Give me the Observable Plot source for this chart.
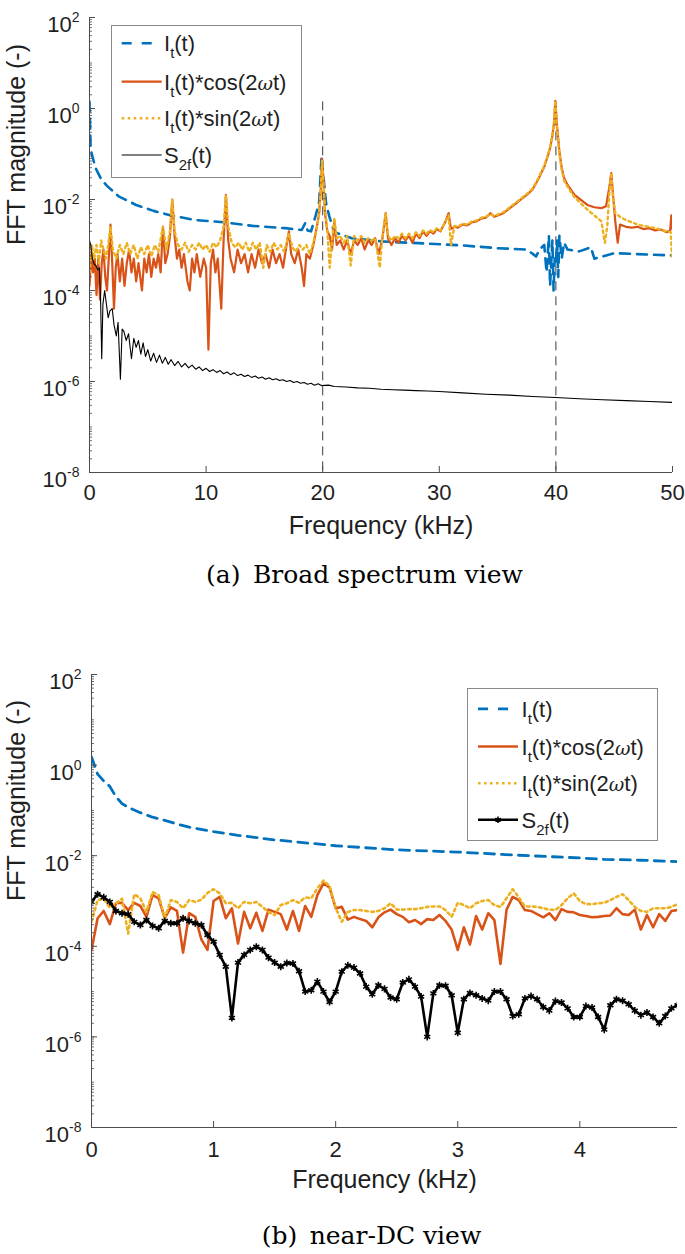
<!DOCTYPE html>
<html><head><meta charset="utf-8">
<script src="https://cdn.jsdelivr.net/npm/d3@7"></script>
<script src="https://cdn.jsdelivr.net/npm/@observablehq/plot@0.6"></script>
<style>
html,body{margin:0;padding:0;background:#fff;}
body{width:685px;height:1254px;position:relative;overflow:hidden;}
.panel{position:absolute;left:0;}
.caption{position:absolute;width:685px;text-align:center;font-family:"DejaVu Serif",serif;font-size:25px;line-height:28px;color:#000;}
</style></head>
<body>
<div id="pa" class="panel" style="top:0px"></div>
<div id="pb" class="panel" style="top:640px"></div>
<div class="caption" style="top:561px;left:22px;">(a)&ensp;Broad spectrum view</div>
<div class="caption" style="top:1222px;left:29px;">(b)&ensp;near-DC view</div>
<script>
// ---------- labels ----------
const yLabel = "FFT magnitude (-)";
const xLabel = "Frequency (kHz)";
const yDomain = [1e-8, 1e2];
const yLabelTicks = [1e-8, 1e-6, 1e-4, 1e-2, 1, 1e2];
const xTicksA = [0, 10, 20, 30, 40, 50];
const xTicksB = [0, 1, 2, 3, 4];
const harmonicFreqs = [20, 40];      // dashed reference lines (kHz)
const harmonicTop = 1.4;             // top of dashed lines (magnitude)
const seriesNames = ["It", "cos", "sin", "S2f"];

// ---------- panel (a): [frequency kHz, log10 magnitude] ----------
const broadIt = [[0,0.15],[0.1,-0.9],[0.3,-1.1],[0.5,-1.3],[1.0,-1.55],[1.5,-1.7],[2.5,-1.93],[4,-2.12],[5.5,-2.25],[7,-2.35],[9,-2.45],[11.5,-2.5],[14,-2.58],[16.8,-2.63],[18.2,-2.67],[18.5,-2.52],[18.7,-2.68],[19.0,-2.7],[19.4,-2.35],[19.7,-2.05],[19.9,-1.05],[20.1,-1.6],[20.3,-2.1],[20.6,-2.4],[21,-2.72],[22.5,-2.85],[25,-2.92],[29,-2.97],[32,-3.01],[35,-3.07],[37.5,-3.1],[38.3,-3.25],[38.6,-3.1],[39.0,-3.0],[39.2,-3.6],[39.4,-2.8],[39.5,-3.9],[39.7,-2.9],[39.8,-4.0],[39.9,-3.3],[40.0,-3.4],[40.1,-2.9],[40.2,-3.7],[40.3,-2.8],[40.5,-3.3],[40.7,-2.95],[41.0,-3.1],[42,-3.14],[43,-3.05],[43.3,-3.3],[45,-3.18],[50,-3.23]];

const broadCos = [[0,-3.9],[0.15,-3.2],[0.3,-3.6],[0.45,-3.3],[0.6,-4.1],[0.75,-3.3],[0.9,-4.2],[1.05,-3.4],[1.2,-3.1],[1.35,-3.7],[1.5,-4.0],[1.65,-3.3],[1.8,-2.55],[1.95,-3.4],[2.1,-4.4],[2.25,-3.5],[2.4,-3.2],[2.6,-3.8],[2.8,-3.3],[3.0,-3.9],[3.2,-3.4],[3.4,-3.1],[3.6,-3.6],[3.8,-3.3],[4.0,-3.8],[4.2,-3.4],[4.5,-4.0],[4.7,-3.3],[4.9,-3.6],[5.1,-3.2],[5.3,-3.7],[5.5,-3.3],[5.7,-3.5],[5.9,-3.2],[6.1,-3.6],[6.3,-2.6],[6.5,-3.4],[6.7,-3.2],[6.9,-2.8],[7.1,-2.0],[7.3,-2.8],[7.5,-3.3],[7.7,-3.1],[7.9,-3.5],[8.1,-3.2],[8.4,-3.8],[8.6,-4.0],[8.8,-3.3],[9.0,-3.6],[9.2,-3.2],[9.5,-3.7],[9.8,-3.3],[10.0,-3.5],[10.2,-5.3],[10.4,-3.4],[10.6,-3.1],[10.8,-3.6],[11.0,-3.3],[11.3,-4.4],[11.5,-2.9],[11.7,-1.9],[11.9,-2.9],[12.1,-3.3],[12.4,-3.6],[12.7,-3.1],[13.0,-3.4],[13.3,-3.2],[13.6,-3.6],[13.9,-3.2],[14.2,-3.5],[14.5,-3.1],[14.8,-3.4],[15.1,-3.2],[15.4,-3.5],[15.7,-3.1],[16.0,-3.4],[16.3,-3.2],[16.6,-3.5],[16.9,-3.0],[17.1,-2.7],[17.3,-3.2],[17.6,-3.4],[17.9,-3.1],[18.2,-3.5],[18.4,-3.9],[18.6,-3.2],[18.9,-3.3],[19.2,-3.0],[19.5,-2.6],[19.7,-2.3],[19.85,-1.7],[19.95,-1.1],[20.05,-1.5],[20.2,-2.3],[20.4,-2.7],[20.6,-2.8],[20.8,-3.1],[21.0,-2.5],[21.2,-3.0],[21.5,-2.9],[21.8,-3.1],[22.1,-2.9],[22.4,-3.2],[22.7,-2.9],[23.0,-3.0],[23.3,-2.85],[23.6,-3.1],[23.9,-2.9],[24.2,-3.0],[24.5,-2.85],[24.8,-3.2],[25.1,-2.9],[25.4,-2.3],[25.6,-2.85],[25.9,-3.0],[26.2,-2.85],[26.5,-2.95],[26.8,-2.8],[27.1,-2.9],[27.4,-2.8],[27.7,-2.95],[28.0,-2.75],[28.3,-2.85],[28.6,-2.7],[28.9,-2.8],[29.2,-2.7],[29.5,-2.75],[29.8,-2.65],[30.1,-2.7],[30.5,-2.5],[30.8,-2.3],[31.0,-2.65],[31.3,-2.6],[31.6,-2.62],[32.0,-2.55],[32.4,-2.57],[32.8,-2.5],[33.2,-2.48],[33.6,-2.42],[34.0,-2.4],[34.4,-2.3],[34.7,-2.38],[35.0,-2.35],[35.5,-2.3],[36.0,-2.2],[36.5,-2.1],[37.0,-2.0],[37.5,-1.9],[38.0,-1.78],[38.5,-1.55],[39.0,-1.28],[39.3,-1.05],[39.5,-0.87],[39.7,-0.6],[39.85,-0.3],[39.95,0.17],[40.1,-0.4],[40.3,-0.95],[40.5,-1.3],[40.7,-1.53],[41.0,-1.68],[41.6,-1.9],[42.2,-2.02],[42.7,-2.12],[43.3,-2.17],[43.9,-2.19],[44.3,-2.15],[44.6,-1.7],[44.75,-1.42],[44.9,-1.9],[45.1,-2.5],[45.3,-2.95],[45.5,-2.55],[46.0,-2.6],[46.5,-2.62],[47.0,-2.6],[47.5,-2.65],[48.0,-2.63],[48.5,-2.68],[49.0,-2.66],[49.5,-2.72],[49.8,-2.68],[49.9,-2.35],[50.0,-2.65]];

const broadSin = [[0,-3.6],[0.2,-3.0],[0.4,-3.3],[0.6,-3.0],[0.8,-3.4],[1.0,-2.9],[1.2,-3.1],[1.4,-3.3],[1.6,-3.0],[1.8,-2.6],[2.0,-3.1],[2.3,-3.3],[2.6,-3.0],[2.9,-3.2],[3.2,-2.95],[3.5,-3.2],[3.8,-3.0],[4.1,-3.3],[4.4,-3.05],[4.7,-3.2],[5.0,-3.0],[5.3,-3.25],[5.6,-3.0],[5.9,-3.15],[6.3,-2.6],[6.6,-3.1],[6.9,-2.7],[7.1,-2.0],[7.3,-2.7],[7.6,-3.0],[7.9,-3.1],[8.2,-2.95],[8.5,-3.15],[8.8,-3.0],[9.1,-3.1],[9.4,-2.95],[9.7,-3.1],[10.0,-3.0],[10.3,-3.15],[10.6,-2.95],[10.9,-3.05],[11.2,-2.9],[11.5,-2.6],[11.7,-1.9],[11.9,-2.6],[12.2,-2.95],[12.5,-3.05],[12.8,-2.95],[13.1,-3.1],[13.4,-2.95],[13.7,-3.15],[14.0,-2.95],[14.3,-3.1],[14.6,-2.95],[14.9,-3.5],[15.2,-3.0],[15.5,-3.15],[15.8,-2.95],[16.1,-3.1],[16.4,-3.0],[16.7,-3.15],[17.1,-2.75],[17.4,-3.05],[17.7,-3.15],[18.0,-3.0],[18.3,-3.1],[18.6,-3.0],[18.9,-3.2],[19.2,-2.95],[19.5,-2.6],[19.7,-2.3],[19.85,-1.7],[19.95,-1.15],[20.05,-1.6],[20.2,-2.2],[20.4,-2.7],[20.6,-3.5],[20.8,-2.9],[21.0,-2.4],[21.2,-2.85],[21.5,-2.8],[21.8,-2.95],[22.1,-2.8],[22.4,-3.45],[22.7,-2.8],[23.0,-2.9],[23.3,-2.8],[23.6,-2.95],[23.9,-2.85],[24.2,-2.9],[24.5,-2.85],[24.9,-3.5],[25.1,-2.85],[25.4,-2.3],[25.6,-2.8],[25.9,-2.9],[26.2,-2.8],[26.5,-2.85],[26.8,-2.75],[27.1,-2.85],[27.4,-2.75],[27.7,-2.85],[28.0,-2.72],[28.3,-2.8],[28.6,-2.68],[28.9,-2.75],[29.2,-2.67],[29.5,-2.72],[29.8,-2.63],[30.1,-2.68],[30.5,-2.5],[30.8,-2.35],[31.0,-3.0],[31.3,-2.58],[31.6,-2.6],[32.0,-2.53],[32.4,-2.55],[32.8,-2.48],[33.2,-2.46],[33.6,-2.4],[34.0,-2.38],[34.4,-2.32],[34.7,-2.36],[35.0,-2.33],[35.5,-2.28],[36.0,-2.18],[36.5,-2.08],[37.0,-1.98],[37.5,-1.88],[38.0,-1.76],[38.5,-1.53],[39.0,-1.26],[39.3,-1.03],[39.5,-0.85],[39.7,-0.58],[39.85,-0.28],[39.95,0.17],[40.1,-0.45],[40.3,-1.0],[40.5,-1.35],[40.7,-1.58],[41.0,-1.72],[41.6,-1.95],[42.2,-2.1],[42.7,-2.22],[43.3,-2.35],[43.9,-2.48],[44.2,-2.95],[44.4,-2.6],[44.6,-1.8],[44.75,-1.42],[44.9,-1.95],[45.1,-2.3],[45.5,-2.38],[46.0,-2.45],[46.5,-2.5],[47.0,-2.55],[47.5,-2.58],[48.0,-2.6],[48.5,-2.63],[49.0,-2.66],[49.5,-2.7],[49.85,-2.72],[49.95,-3.25],[50.0,-3.2]];

const broadS2f = [[0,-2.9],[0.1,-3.0],[0.25,-3.3],[0.4,-3.42],[0.55,-3.45],[0.7,-3.55],[0.85,-3.5],[0.95,-4.2],[1.05,-5.5],[1.15,-4.3],[1.3,-4.0],[1.45,-4.3],[1.6,-4.6],[1.75,-4.45],[1.95,-4.4],[2.1,-4.75],[2.3,-5.0],[2.45,-4.7],[2.65,-5.95],[2.8,-4.85],[2.95,-4.9],[3.15,-5.1],[3.35,-4.95],[3.6,-5.5],[3.8,-5.05],[4.0,-5.25],[4.2,-5.1],[4.4,-5.4],[4.6,-5.15],[4.8,-5.45],[5.0,-5.3],[5.25,-5.55],[5.5,-5.38],[5.75,-5.58],[6.0,-5.42],[6.25,-5.6],[6.5,-5.47],[6.75,-5.62],[7.0,-5.52],[7.3,-5.65],[7.6,-5.56],[7.9,-5.68],[8.2,-5.6],[8.5,-5.7],[8.8,-5.64],[9.1,-5.73],[9.4,-5.68],[9.7,-5.76],[10.0,-5.71],[10.3,-5.78],[10.6,-5.74],[10.9,-5.8],[11.2,-5.76],[11.5,-5.83],[11.8,-5.79],[12.1,-5.85],[12.4,-5.81],[12.7,-5.87],[13.0,-5.84],[13.3,-5.89],[13.6,-5.86],[13.9,-5.91],[14.2,-5.88],[14.5,-5.93],[14.8,-5.9],[15.1,-5.95],[15.4,-5.92],[15.7,-5.96],[16.0,-5.94],[16.3,-5.98],[16.6,-5.96],[16.9,-6.0],[17.2,-5.98],[17.5,-6.02],[17.8,-6.0],[18.1,-6.04],[18.4,-6.02],[18.7,-6.06],[19.0,-6.04],[19.3,-6.08],[19.6,-6.05],[19.9,-6.09],[20.5,-6.08],[21,-6.11],[22,-6.12],[23,-6.14],[24,-6.15],[25,-6.17],[26,-6.18],[27,-6.19],[28,-6.2],[29,-6.21],[30,-6.22],[32,-6.25],[34,-6.28],[36,-6.3],[38,-6.33],[40,-6.35],[42,-6.38],[44,-6.4],[46,-6.42],[48,-6.44],[50,-6.46]];

// ---------- panel (b): FFT bins (kHz) and log10 magnitudes ----------
const dcFreq = [0,0.05,0.1,0.15,0.2,0.25,0.3,0.35,0.4,0.45,0.5,0.55,0.6,0.65,0.7,0.75,0.8,0.85,0.9,0.95,1,1.05,1.1,1.15,1.2,1.25,1.3,1.35,1.4,1.45,1.5,1.55,1.6,1.65,1.7,1.75,1.8,1.85,1.9,1.95,2,2.05,2.1,2.15,2.2,2.25,2.3,2.35,2.4,2.45,2.5,2.55,2.6,2.65,2.7,2.75,2.8,2.85,2.9,2.95,3,3.05,3.1,3.15,3.2,3.25,3.3,3.35,3.4,3.45,3.5,3.55,3.6,3.65,3.7,3.75,3.8,3.85,3.9,3.95,4,4.05,4.1,4.15,4.2,4.25,4.3,4.35,4.4,4.45,4.5,4.55,4.6,4.65,4.7,4.75,4.8];
const dcCos = [-4.08,-3.38,-3.22,-3.51,-3.05,-3.04,-3.20,-3.04,-3.11,-3.35,
 -2.87,-2.94,-3.38,-3.14,-3.22,-4.14,-3.27,-3.35,-3.85,-4.08,
 -3.00,-2.91,-3.38,-3.16,-3.94,-3.24,-3.60,-3.26,-3.66,-3.19,
 -3.24,-3.29,-3.63,-3.22,-3.66,-3.11,-3.35,-2.87,-2.61,-2.70,
 -3.16,-3.13,-3.41,-3.35,-3.40,-3.44,-3.58,-3.36,-3.25,-3.19,
 -3.29,-3.35,-3.47,-3.42,-3.51,-3.40,-3.42,-3.31,-3.44,-3.63,
 -4.08,-3.58,-3.96,-3.33,-3.63,-3.27,-3.42,-4.39,-3.19,-2.91,
 -2.98,-3.20,-3.22,-3.29,-3.36,-3.27,-3.42,-3.18,-3.24,-3.25,
 -3.31,-3.33,-3.36,-3.35,-3.33,-3.32,-3.16,-3.29,-3.31,-3.19,
 -3.63,-3.31,-3.58,-3.29,-3.44,-3.22,-3.20];
const dcSin = [-3.46,-2.98,-2.95,-3.15,-3.05,-2.95,-3.72,-2.85,-2.94,-3.24,
 -2.80,-2.87,-3.38,-2.98,-3.02,-3.16,-2.98,-3.02,-2.97,-2.82,
 -2.74,-2.83,-3.05,-3.04,-3.16,-3.02,-3.05,-3.02,-3.13,-3.24,
 -3.31,-3.09,-3.05,-2.98,-3.04,-2.92,-2.94,-2.72,-2.55,-2.67,
 -3.15,-3.46,-3.24,-3.20,-3.20,-3.22,-3.24,-3.22,-3.16,-3.05,
 -3.19,-3.19,-3.18,-3.18,-3.16,-3.13,-3.12,-3.12,-3.20,-3.35,
 -3.04,-3.09,-3.16,-3.05,-3.00,-2.98,-3.09,-3.13,-2.94,-2.74,
 -2.92,-3.12,-3.12,-3.13,-3.16,-3.19,-3.20,-3.09,-2.94,-2.83,
 -3.00,-3.07,-3.07,-3.05,-3.04,-2.98,-2.91,-2.85,-2.98,-3.13,
 -3.22,-3.24,-3.16,-3.16,-3.16,-3.13,-3.07];
const dcS2f = [-3.02,-2.85,-2.92,-3.02,-3.22,-3.27,-3.29,-3.46,-3.53,-3.42,
 -3.55,-3.60,-3.44,-3.49,-3.49,-3.38,-3.44,-3.49,-3.53,-3.75,
 -3.90,-4.19,-4.45,-5.58,-4.36,-4.19,-4.08,-4.01,-4.08,-4.25,
 -4.36,-4.45,-4.37,-4.38,-4.55,-5.00,-4.97,-4.78,-5.00,-5.23,
 -5.00,-4.56,-4.42,-4.47,-4.60,-4.89,-5.06,-4.86,-4.94,-5.13,
 -5.17,-4.80,-4.73,-4.89,-5.11,-6.00,-5.04,-4.86,-4.87,-5.08,
 -5.91,-5.17,-5.03,-5.08,-5.15,-5.20,-5.00,-5.00,-5.17,-5.54,
 -5.50,-5.15,-5.10,-5.17,-5.34,-5.42,-5.21,-5.24,-5.37,-5.56,
 -5.56,-5.32,-5.35,-5.56,-5.84,-5.30,-5.17,-5.20,-5.28,-5.42,
 -5.52,-5.46,-5.56,-5.70,-5.54,-5.37,-5.30];
const dcIt = [[0,0.18],[0.05,-0.2],[0.1,-0.35],[0.15,-0.47],[0.2,-0.7],[0.25,-0.85],[0.3,-0.93],[0.4,-1.05],[0.5,-1.15],[0.6,-1.22],[0.7,-1.3],[0.8,-1.37],[1.0,-1.47],[1.2,-1.55],[1.5,-1.65],[2.0,-1.78],[2.5,-1.87],[3.0,-1.92],[3.5,-1.99],[4.0,-2.05],[4.2,-2.08],[4.5,-2.1],[4.8,-2.13]];

// ---------- styling ----------
const FONT = '"Liberation Sans", Arial, Helvetica, sans-serif';
const TXT = "#1f1f1f";
const AX = "#4d4d4d";
const C = {It: "#0072BD", cos: "#D95319", sin: "#EDB120", S2f: "#000000"};
const DOT = "2.6,3.4";

const pairs = (arr) => arr.map(([f, l]) => ({f, v: Math.pow(10, l)}));
const binned = (vals) => vals.map((l, i) => ({f: dcFreq[i], v: Math.pow(10, l)}));

function superscriptTicks(svg) {
  d3.select(svg).selectAll('g[aria-label="y-axis tick label"] text').each(function () {
    const s = this.textContent;
    const [base, exp] = s.split("^");
    const t = d3.select(this);
    t.text(null).attr("y", "0.68em").attr("dy", null);
    t.append("tspan").text(base);
    t.append("tspan").attr("font-size", "14px").attr("dy", "-0.74em").text(exp);
  });
}

function buildPanel(o) {
  const frameW = o.width - o.marginLeft - o.marginRight;
  const frameH = o.height - o.marginTop - o.marginBottom;
  const minor = d3.scaleLog().domain(yDomain).ticks(20);
  const svg = Plot.plot({
    width: o.width, height: o.height,
    marginLeft: o.marginLeft, marginRight: o.marginRight, marginTop: o.marginTop, marginBottom: o.marginBottom,
    style: {fontFamily: FONT, fontSize: "22px", color: TXT, background: "transparent", overflow: "visible"},
    x: {domain: o.xDomain},
    y: {type: "log", domain: yDomain},
    marks: [
      ...o.marks,
      Plot.ruleX([o.xDomain[0]], {stroke: AX, strokeWidth: 1}),
      Plot.ruleY([yDomain[0]], {stroke: AX, strokeWidth: 1}),
      Plot.tickY(minor, {y: d => d, stroke: AX, strokeWidth: 0.8, insetRight: frameW - 3}),
      Plot.tickY(yLabelTicks, {y: d => d, stroke: AX, strokeWidth: 1, insetRight: frameW - 6}),
      Plot.tickX(o.xTicks, {x: d => d, stroke: AX, strokeWidth: 1, insetTop: frameH - 6}),
      Plot.axisY({ticks: yLabelTicks, tickSize: 0, tickPadding: 10, label: null,
        tickFormat: d => "10^" + Math.round(Math.log10(d))}),
      Plot.axisX({ticks: o.xTicks, tickSize: 0, tickPadding: o.xPad, label: null, tickFormat: d => String(d)}),
      Plot.text([yLabel], {frameAnchor: "left", rotate: -90, dx: o.yLabelDx, fontSize: 25, lineAnchor: "middle", text: d => d, fill: TXT}),
      Plot.text([xLabel], {frameAnchor: "bottom", dy: o.xLabelDy, fontSize: 25, lineAnchor: "middle", text: d => d, fill: TXT})
    ]
  });
  superscriptTicks(svg);
  return svg;
}

const labelParts = {
  It: [["I"], ["t", "sub"], ["(t)"]],
  cos: [["I"], ["t", "sub"], ["(t)*cos(2"], ["ω", "it"], ["t)"]],
  sin: [["I"], ["t", "sub"], ["(t)*sin(2"], ["ω", "it"], ["t)"]],
  S2f: [["S"], ["2f", "sub"], ["(t)"]]
};

function legend(parent, g, styles) {
  const svg = d3.select(parent).append("svg")
    .attr("width", g.width + 2).attr("height", g.height + 2)
    .style("position", "absolute").style("left", g.left + "px").style("top", g.top + "px");
  svg.append("rect").attr("x", 0.5).attr("y", 0.5).attr("width", g.width).attr("height", g.height)
    .attr("fill", "#fff").attr("stroke", "#8a8a8a").attr("stroke-width", 1);
  seriesNames.forEach((k, i) => {
    const y = g.rows[i], s = styles[k];
    svg.append("line").attr("x1", g.x1).attr("x2", g.x2).attr("y1", y).attr("y2", y)
      .attr("stroke", C[k]).attr("stroke-width", s.width).attr("stroke-dasharray", s.legendDash || null);
    if (s.marker) {
      svg.append("path").attr("d", d3.symbol(d3.symbolAsterisk, 28)())
        .attr("transform", `translate(${(g.x1 + g.x2) / 2},${y})`).attr("stroke", C[k]).attr("stroke-width", 1.5).attr("fill", "none");
    }
    const t = svg.append("text").attr("x", g.tx).attr("y", y + 8)
      .attr("font-family", FONT).attr("font-size", 22).attr("fill", TXT);
    let shift = 0;
    labelParts[k].forEach(([str, kind]) => {
      const ts = t.append("tspan").text(str);
      if (kind === "sub") { ts.attr("font-size", 15).attr("dy", 7 - shift); shift = 7; }
      else { if (shift) ts.attr("dy", -shift); shift = 0; }
      if (kind === "it") ts.attr("font-style", "italic").attr("font-family", '"DejaVu Serif", serif').attr("font-size", 19);
    });
  });
}

// ---------- panel (a) ----------
const gA = document.getElementById("pa");
gA.append(buildPanel({
  width: 685, height: 540, marginLeft: 89, marginRight: 13, marginTop: 17, marginBottom: 68,
  xDomain: [0, 50], xTicks: xTicksA, xPad: 12, yLabelDx: -73, xLabelDy: 53,
  marks: [
    Plot.ruleX(harmonicFreqs, {y1: harmonicTop, y2: yDomain[0], stroke: "#3a3a3a", strokeWidth: 1, strokeDasharray: "9,6"}),
    Plot.line(pairs(broadIt), {x: "f", y: "v", stroke: C.It, strokeWidth: 2.6, strokeDasharray: "10,7", clip: true}),
    Plot.line(pairs(broadCos), {x: "f", y: "v", stroke: C.cos, strokeWidth: 2.2, clip: true}),
    Plot.line(pairs(broadSin), {x: "f", y: "v", stroke: C.sin, strokeWidth: 2.4, strokeDasharray: DOT, clip: true}),
    Plot.line(pairs(broadS2f), {x: "f", y: "v", stroke: C.S2f, strokeWidth: 1.1, clip: true})
  ]
}));
legend(gA, {left: 111, top: 25, width: 190, height: 152, rows: [18.3, 56.7, 93.3, 130], x1: 10.7, x2: 50.7, tx: 53},
  {It: {width: 2.6, legendDash: "10,10"}, cos: {width: 2.2}, sin: {width: 2.4, legendDash: DOT}, S2f: {width: 1.1}});

// ---------- panel (b) ----------
const gB = document.getElementById("pb");
const s2fB = binned(dcS2f);
gB.append(buildPanel({
  width: 685, height: 560, marginLeft: 91, marginRight: 8, marginTop: 34, marginBottom: 73,
  xDomain: [0, 4.8], xTicks: xTicksB, xPad: 14, yLabelDx: -75, xLabelDy: 52,
  marks: [
    Plot.line(pairs(dcIt), {x: "f", y: "v", stroke: C.It, strokeWidth: 2.8, strokeDasharray: "10,7", clip: true}),
    Plot.line(binned(dcCos), {x: "f", y: "v", stroke: C.cos, strokeWidth: 2.6, clip: true}),
    Plot.line(binned(dcSin), {x: "f", y: "v", stroke: C.sin, strokeWidth: 2.6, strokeDasharray: DOT, clip: true}),
    Plot.line(s2fB, {x: "f", y: "v", stroke: C.S2f, strokeWidth: 2.6, clip: true}),
    Plot.dot(s2fB, {x: "f", y: "v", symbol: "asterisk", r: 3.3, stroke: C.S2f, strokeWidth: 1.6, clip: true})
  ]
}));
legend(gB, {left: 467, top: 47.5, width: 190, height: 152, rows: [20.8, 58.5, 95.2, 131.8], x1: 11, x2: 51, tx: 54.5},
  {It: {width: 2.8, legendDash: "10,10"}, cos: {width: 2.6}, sin: {width: 2.6, legendDash: DOT}, S2f: {width: 2.6, marker: true}});
</script>
</body></html>
